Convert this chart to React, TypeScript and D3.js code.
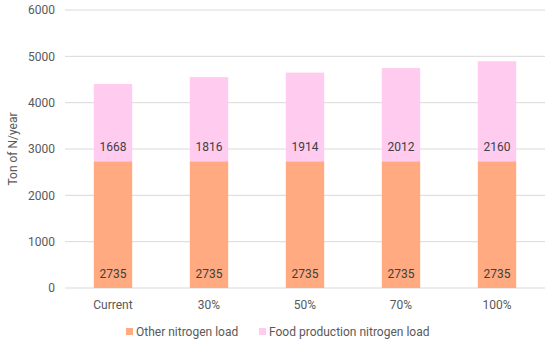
import React, { useRef, useEffect } from "react";
import * as d3 from "d3";

const categories = ["Current", "30%", "50%", "70%", "100%"];
const otherLoad = [2735, 2735, 2735, 2735, 2735];
const foodLoad = [1668, 1816, 1914, 2012, 2160];
const yTicks = [0, 1000, 2000, 3000, 4000, 5000, 6000];
const seriesNames = ["Other nitrogen load", "Food production nitrogen load"];

const W = 550;
const H = 345;
const margin = { top: 10, right: 5, bottom: 57, left: 65 };
const colors = ["#FFAA80", "#FFCCF0"];
const textColor = "#595959";
const font = "Roboto, 'Liberation Sans', sans-serif";

const App = () => {
  const svgRef = useRef<SVGSVGElement>(null);

  useEffect(() => {
    const svg = d3.select(svgRef.current);
    svg.selectAll("*").remove();

    const width = W - margin.left - margin.right;
    const height = H - margin.top - margin.bottom;

    const x = d3.scaleBand().domain(categories).range([0, width]).paddingInner(0.6).paddingOuter(0.3);
    const y = d3.scaleLinear().domain([0, 6000]).range([height, 0]);

    const g = svg.append("g").attr("transform", `translate(${margin.left},${margin.top})`);

    // gridlines
    g.selectAll("line.grid")
      .data(yTicks)
      .enter()
      .append("line")
      .attr("x1", 0)
      .attr("x2", width)
      .attr("y1", (d) => y(d))
      .attr("y2", (d) => y(d))
      .attr("stroke", "#D9D9D9")
      .attr("stroke-width", 1);

    // y tick labels
    g.selectAll("text.ytick")
      .data(yTicks)
      .enter()
      .append("text")
      .attr("x", -10)
      .attr("y", (d) => y(d))
      .attr("dy", "0.35em")
      .attr("text-anchor", "end")
      .attr("font-size", 12)
      .attr("fill", textColor)
      .attr("font-family", font)
      .text((d) => d);

    const rows = categories.map((c, i) => ({ cat: c, other: otherLoad[i], food: foodLoad[i] }));
    const stack = d3.stack<any>().keys(["other", "food"])(rows);

    stack.forEach((layer, li) => {
      g.selectAll(`rect.s${li}`)
        .data(layer)
        .enter()
        .append("rect")
        .attr("x", (d: any) => x(d.data.cat)!)
        .attr("y", (d) => y(d[1]))
        .attr("width", x.bandwidth())
        .attr("height", (d) => y(d[0]) - y(d[1]))
        .attr("fill", colors[li]);

      g.selectAll(`text.l${li}`)
        .data(layer)
        .enter()
        .append("text")
        .attr("x", (d: any) => x(d.data.cat)! + x.bandwidth() / 2)
        .attr("y", (d) => y(d[0]) - 14)
        .attr("dy", "0.35em")
        .attr("text-anchor", "middle")
        .attr("font-size", 12)
        .attr("fill", "#404040")
        .attr("font-family", font)
        .text((d) => d[1] - d[0]);
    });

    // x labels
    g.selectAll("text.xl")
      .data(categories)
      .enter()
      .append("text")
      .attr("x", (d) => x(d)! + x.bandwidth() / 2)
      .attr("y", height + 17)
      .attr("dy", "0.35em")
      .attr("text-anchor", "middle")
      .attr("font-size", 12)
      .attr("fill", textColor)
      .attr("font-family", font)
      .text((d) => d);

    // y label
    svg
      .append("text")
      .attr("transform", `translate(13,${margin.top + height / 2}) rotate(-90)`)
      .attr("dy", "0.35em")
      .attr("text-anchor", "middle")
      .attr("font-size", 12)
      .attr("fill", textColor)
      .attr("font-family", font)
      .text("Ton of N/year");

    // legend
    const legendX = [126, 259];
    seriesNames.forEach((name, i) => {
      svg
        .append("rect")
        .attr("x", legendX[i])
        .attr("y", 328)
        .attr("width", 7)
        .attr("height", 7)
        .attr("fill", colors[i]);
      svg
        .append("text")
        .attr("x", legendX[i] + 10)
        .attr("y", 332)
        .attr("dy", "0.35em")
        .attr("font-size", 12)
        .attr("fill", textColor)
        .attr("font-family", font)
        .text(name);
    });
  }, []);

  return <svg ref={svgRef} width={W} height={H} style={{ position: "absolute", left: 0, top: 0 }} />;
};

export default App;
